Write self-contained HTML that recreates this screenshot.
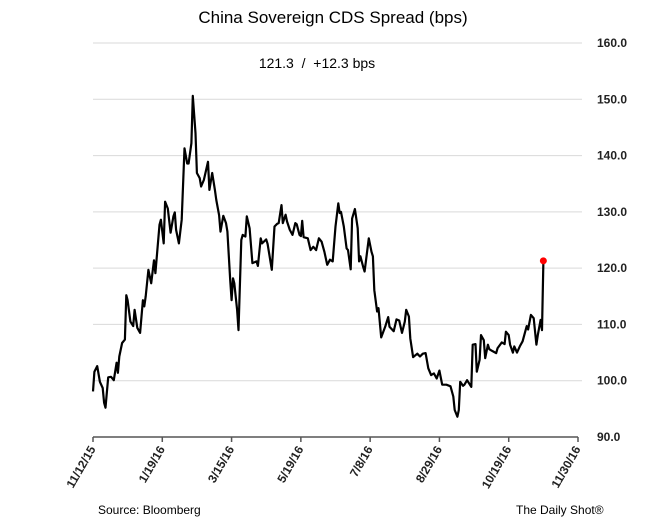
<!DOCTYPE html>
<html><head><meta charset="utf-8"><style>
body{margin:0;background:#fff;width:657px;height:519px;overflow:hidden;font-family:"Liberation Sans",sans-serif}
</style></head><body>
<svg id="chart" width="657" height="519" xmlns="http://www.w3.org/2000/svg">
<text x="333" y="23" text-anchor="middle" font-size="17" fill="#000">China Sovereign CDS Spread (bps)</text>
<text x="317" y="68" text-anchor="middle" font-size="14" fill="#000" style="white-space:pre">121.3  /  +12.3 bps</text>
<g id="grid"></g><g id="axes"></g><g id="series"></g>
<text x="98" y="514" font-size="12" fill="#000">Source: Bloomberg</text>
<text x="516" y="514" font-size="12" fill="#000">The Daily Shot®</text>
</svg>
<script>
const yTicks=[90,100,110,120,130,140,150,160];
const xTickDays=[0,50,100,150,200,250,300,350];
const xTickLabels=["11/12/15","1/19/16","3/15/16","5/19/16","7/8/16","8/29/16","10/19/16","11/30/16"];
const days=[0,1,3,5,7,8,9,11,13,15,17,18,19,21,23,24,25,27,29,30,32,34,36,37,38,40,42,44,45,48,49,51,52,54,56,58,59,60,62,64,66,68,69,71,72,74,75,77,78,80,83,84,86,88,89,91,92,94,96,97,99,100,101,102,104,105,107,108,110,111,113,115,118,119,121,122,125,126,129,131,133,134,136,137,139,140,142,144,146,147,149,150,151,152,155,157,159,161,163,165,167,169,171,173,175,177,178,179,181,183,184,186,187,189,191,192,193,195,196,199,201,202,203,205,206,208,211,213,214,217,219,221,223,225,226,228,229,231,234,236,238,240,242,244,246,248,250,252,255,258,260,261,263,264,265,267,268,270,272,273,274,276,277,279,280,282,283,285,286,288,291,292,295,297,298,300,301,303,304,306,308,310,313,314,316,318,320,321,323,324,325];
const values=[98.1,101.6,102.6,99.8,98.7,96.1,95.2,100.6,100.7,100.1,103.2,101.4,104.3,106.7,107.3,115.2,114.3,110.5,109.7,112.6,109.4,108.5,114.3,113.2,115,119.7,117.3,121.4,119.1,127.7,128.6,124.4,131.8,130.6,126.3,129.2,129.9,126.8,124.4,128.6,141.3,138.6,138.6,142.2,150.6,144,136.9,136,134.5,135.7,138.9,133.9,136.9,133.9,132.1,129.4,126.5,129.3,128,126.5,117.9,114.3,118.2,117.3,112.6,109,125,125.9,125.6,129.2,127.1,120.9,121.2,120.4,125.3,124.4,125.1,124.3,119.7,127.4,127.9,128,131.2,128,129.5,128.3,126.8,125.9,128,127.8,125.9,125.7,128.4,125.5,125.3,123.2,123.8,123.2,125.3,124.7,122.9,120.6,121.5,121.2,127.4,131.5,129.8,130,127.4,123.5,123.2,119.8,128.8,130.5,127.1,121.2,122.1,120.2,119.4,125.3,122.9,122.1,116.1,112.3,112.9,107.7,109.7,111.3,109.6,108.8,110.9,110.7,108.5,110.5,112.6,111.4,107.5,104.2,104.8,104.3,104.8,104.9,102.2,101,101.3,100.4,101.8,99.3,99.3,99,97.2,94.8,93.6,94.8,99.8,99.1,99.3,100.1,99.3,98.9,106.4,106.5,101.6,103.7,108.1,107.2,104,106.4,105.6,105.3,104.9,105.8,106.8,106.5,108.7,108.1,106.4,105,106.1,105,106.1,107,109.7,109.1,111.7,111.1,106.4,108.1,110.8,109,121.3];
const NS="http://www.w3.org/2000/svg";
const X0=93,X1=578,Y0=437,Y1=43;
function xs(d){return X0+d*(X1-X0)/350;}
function ys(v){return Y0-(v-90)*(Y0-Y1)/70;}
function mk(tag,attrs,parent){const e=document.createElementNS(NS,tag);for(const k in attrs)e.setAttribute(k,attrs[k]);parent.appendChild(e);return e;}
const grid=document.getElementById('grid'),axes=document.getElementById('axes'),series=document.getElementById('series');
yTicks.forEach(v=>{
  if(v>90){const l=mk('line',{x1:X0,x2:582,y1:ys(v),y2:ys(v),stroke:'#d9d9d9','stroke-width':1},grid);
  
  }
  const t=mk('text',{x:597,y:ys(v)+4,'font-size':12,'font-weight':'bold',fill:'#222'},axes);
  t.textContent=v.toFixed(1);
  
  
});
const ax=mk('line',{x1:X0,x2:X1,y1:Y0,y2:Y0,stroke:'#555','stroke-width':1.5},axes);


xTickDays.forEach((d,i)=>{
  const x=xs(d);
  const tk=mk('line',{x1:x,x2:x,y1:Y0,y2:Y0+5,stroke:'#555','stroke-width':1.5},axes);
  
  
  const t=mk('text',{x:x+3,y:Y0+12,'font-size':12,'font-weight':'bold',fill:'#222','text-anchor':'end',transform:`rotate(-60 ${x+3} ${Y0+12})`},axes);
  t.textContent=xTickLabels[i];
  
  
});
const pts=days.map((d,i)=>xs(d).toFixed(1)+','+ys(values[i]).toFixed(1)).join(' ');
const pl=mk('polyline',{points:pts,fill:'none',stroke:'#000','stroke-width':2.2,'stroke-linejoin':'round'},series);


const n=days.length-1;
const dot=mk('circle',{cx:xs(days[n]),cy:ys(values[n]),r:3.5,fill:'#ff0000'},series);


</script>
</body></html>
